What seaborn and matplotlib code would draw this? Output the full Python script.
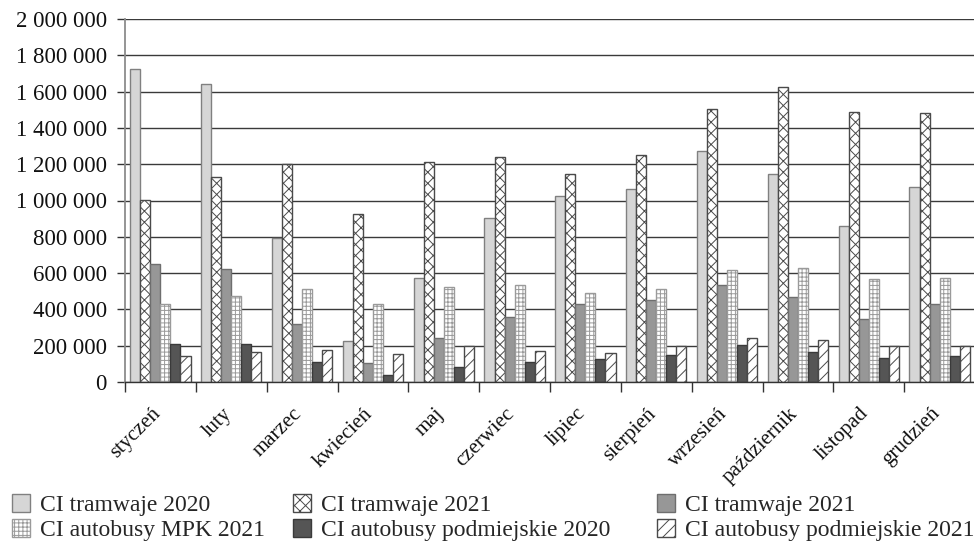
import matplotlib
matplotlib.use("Agg")
import matplotlib.pyplot as plt
from matplotlib.patches import Patch
from matplotlib.ticker import FuncFormatter, FixedLocator
from matplotlib.transforms import ScaledTranslation
import numpy as np
import pandas as pd
import seaborn as sns

# Monthly passenger counts per series
months = ["styczeń", "luty", "marzec", "kwiecień", "maj", "czerwiec",
          "lipiec", "sierpień", "wrzesień", "październik", "listopad", "grudzień"]

tramwaje_2020 = [1725000, 1640000, 794000, 228000, 575000, 906000,
                 1024000, 1062000, 1274000, 1147000, 858000, 1077000]
tramwaje_2021 = [1004000, 1129000, 1199000, 926000, 1210000, 1237000,
                 1145000, 1250000, 1504000, 1628000, 1487000, 1482000]
tramwaje_2021_b = [649000, 623000, 318000, 103000, 244000, 357000,
                   428000, 454000, 535000, 467000, 349000, 428000]
autobusy_mpk_2021 = [428000, 476000, 511000, 428000, 526000, 533000,
                     491000, 515000, 616000, 630000, 566000, 575000]
podmiejskie_2020 = [208000, 208000, 110000, 39000, 81000, 112000,
                    127000, 149000, 202000, 165000, 131000, 143000]
podmiejskie_2021 = [143000, 165000, 178000, 153000, 197000, 173000,
                    162000, 200000, 241000, 230000, 197000, 197000]

series_keys = ["tramwaje_2020", "tramwaje_2021", "tramwaje_2021_b",
               "autobusy_mpk_2021", "podmiejskie_2020", "podmiejskie_2021"]
series_labels = ["CI tramwaje 2020", "CI tramwaje 2021", "CI tramwaje 2021",
                 "CI autobusy MPK 2021", "CI autobusy podmiejskie 2020",
                 "CI autobusy podmiejskie 2021"]
series_values = [tramwaje_2020, tramwaje_2021, tramwaje_2021_b,
                 autobusy_mpk_2021, podmiejskie_2020, podmiejskie_2021]

y_ticks = [0, 200000, 400000, 600000, 800000, 1000000,
           1200000, 1400000, 1600000, 1800000, 2000000]

# Fill, edge and hatch for each series (grayscale print style)
face_colors = ["#d6d6d6", "#ffffff", "#979797", "#ffffff", "#555555", "#ffffff"]
edge_colors = ["#808080", "#4a4a4a", "#6e6e6e", "#9a9a9a", "#3a3a3a", "#4a4a4a"]
hatches = [None, "xxx", None, "++++", None, "///"]

df = pd.DataFrame({
    "miesiac": np.repeat([months], len(series_keys), axis=0).ravel(),
    "seria": np.repeat(series_keys, len(months)),
    "wartosc": np.concatenate(series_values),
})

sns.set_theme(style="white")
plt.rcParams["font.family"] = ["Liberation Serif", "DejaVu Serif"]
plt.rcParams["hatch.linewidth"] = 0.7

fig = plt.figure(figsize=(9.74, 5.46), dpi=100)
ax = fig.add_axes([125 / 974, 164 / 546, 850 / 974, 363 / 546])

sns.barplot(data=df, x="miesiac", y="wartosc", hue="seria",
            order=months, hue_order=series_keys,
            palette=dict(zip(series_keys, face_colors)),
            saturation=1, width=0.85, gap=0, legend=False, ax=ax)

for cont, ec, h in zip(ax.containers, edge_colors, hatches):
    for bar in cont:
        bar.set_edgecolor(ec)
        bar.set_linewidth(1.0)
        if h:
            bar.set_hatch(h)

ax.set_xlim(-0.5, len(months) - 0.5)
ax.set_ylim(0, 2000000)
ax.set_xlabel("")
ax.set_ylabel("")

# Horizontal gridlines behind the bars
ax.set_axisbelow(True)
ax.yaxis.set_major_locator(FixedLocator(y_ticks))
ax.yaxis.grid(True, color="#3a3a3a", linewidth=1.0)
ax.xaxis.grid(False)
ax.yaxis.set_major_formatter(FuncFormatter(lambda v, p: f"{int(v):,}".replace(",", " ")))
ax.tick_params(axis="y", which="major", left=True, length=6, width=1,
               color="#333333", pad=7, labelsize=16.5, labelcolor="#111111")

# Month labels on group centres, tick marks on group boundaries
ax.set_xticks(range(len(months)))
ax.set_xticklabels(months, rotation=45, ha="right", va="top")
ax.tick_params(axis="x", which="major", length=0, pad=16, labelsize=15,
               labelcolor="#111111")
shift = ScaledTranslation(4 / 100, 0, fig.dpi_scale_trans)
for lbl in ax.get_xticklabels():
    lbl.set_transform(lbl.get_transform() + shift)
ax.set_xticks(np.arange(-0.5, len(months) + 0.5, 1.0), minor=True)
ax.tick_params(axis="x", which="minor", bottom=True, length=7, width=1,
               color="#333333")

for side in ["top", "right"]:
    ax.spines[side].set_visible(False)
ax.spines["left"].set_color("#8c8c8c")
ax.spines["left"].set_linewidth(1.3)
ax.spines["bottom"].set_color("#333333")
ax.spines["bottom"].set_linewidth(1.0)

# Legend: two rows, three columns
handles = [Patch(facecolor=fc, edgecolor=ec, hatch=h, linewidth=1.0)
           for fc, ec, h in zip(face_colors, edge_colors, hatches)]
col_x = [12 / 974, 293 / 974, 657 / 974]
for c in range(3):
    idx = [c, c + 3]
    fig.legend([handles[i] for i in idx], [series_labels[i] for i in idx],
               loc="upper left", bbox_to_anchor=(col_x[c], 1 - 494 / 546),
               frameon=False, fontsize=17, borderpad=0, borderaxespad=0,
               handlelength=0.78, handleheight=0.78, handletextpad=0.4,
               labelspacing=0.12)

fig.savefig("out.png", dpi=100)
